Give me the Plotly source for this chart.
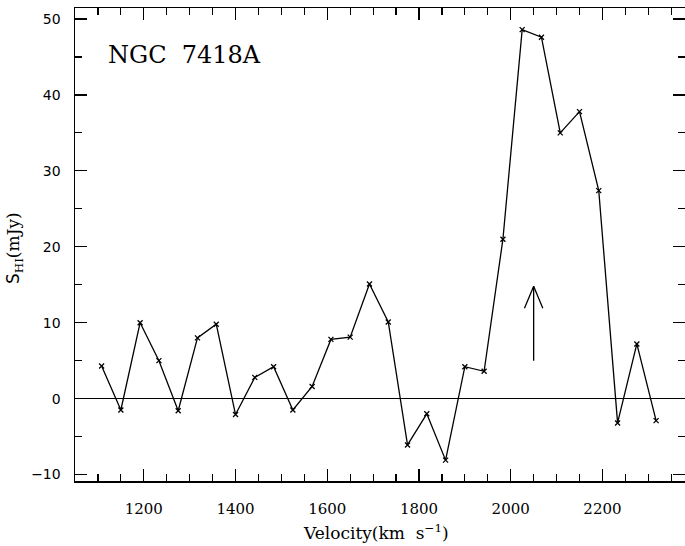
import plotly.graph_objects as go

# Data
velocity = [1108, 1150, 1192, 1233, 1275, 1317, 1358, 1400, 1442, 1483,
            1525, 1567, 1608, 1650, 1692, 1733, 1775, 1817, 1858, 1900,
            1942, 1983, 2025, 2067, 2108, 2150, 2192, 2233, 2275, 2317]
flux = [4.3, -1.5, 10.0, 5.0, -1.6, 8.0, 9.8, -2.1, 2.8, 4.2,
        -1.5, 1.6, 7.8, 8.1, 15.1, 10.1, -6.1, -2.0, -8.1, 4.2,
        3.6, 21.0, 48.6, 47.6, 35.0, 37.8, 27.4, -3.2, 7.2, -2.9]

galaxy_name = "NGC  7418A"
arrow_velocity = 2050
arrow_base = 5.0
arrow_tip = 14.8
barb_dx = 20
barb_dy = 2.9

x_range = [1050, 2380]
y_range = [-10.85, 51.45]

fig = go.Figure()

fig.add_trace(go.Scatter(
    x=velocity, y=flux, mode="lines+markers",
    line=dict(color="black", width=1.3),
    marker=dict(symbol="x-thin", size=5, line=dict(color="black", width=1.3)),
    showlegend=False, hoverinfo="skip", cliponaxis=False,
))

# arrow marking the systemic velocity
fig.add_trace(go.Scatter(
    x=[arrow_velocity - barb_dx, arrow_velocity, arrow_velocity + barb_dx, None,
       arrow_velocity, arrow_velocity],
    y=[arrow_tip - barb_dy, arrow_tip, arrow_tip - barb_dy, None,
       arrow_tip, arrow_base],
    mode="lines", line=dict(color="black", width=1.3),
    showlegend=False, hoverinfo="skip",
))

serif = "DejaVu Serif"

fig.add_annotation(
    text=galaxy_name, xref="x", yref="y", x=1118, y=45.3,
    xanchor="left", yanchor="middle", showarrow=False,
    font=dict(family=serif, size=24, color="black"),
)

fig.add_annotation(
    text="<span style='font-family:DejaVu Sans'>S</span><sub>HI</sub>(mJy)",
    xref="paper", yref="paper", x=(14 - 75) / 610, y=(481 - 248) / 473,
    xanchor="center", yanchor="middle", textangle=-90, showarrow=False,
    font=dict(family=serif, size=17, color="black"),
)

fig.add_annotation(
    text="Velocity(km  s<sup>−1</sup>)",
    xref="paper", yref="paper", x=(376 - 75) / 610, y=(481 - 532) / 473,
    xanchor="center", yanchor="middle", showarrow=False,
    font=dict(family=serif, size=17, color="black"),
)

fig.update_xaxes(
    range=x_range, dtick=200, tick0=0, automargin=False,
    ticks="inside", ticklen=12, tickwidth=1.2, tickcolor="black",
    minor=dict(dtick=50, tick0=0, ticks="inside", ticklen=7, tickwidth=1.2, tickcolor="black"),
    showline=True, linecolor="black", linewidth=1.5, mirror="allticks",
    showgrid=False, zeroline=False,
    tickfont=dict(family=serif, size=15, color="black"),
    ticklabelstandoff=13,
)
fig.update_yaxes(
    range=y_range, dtick=10, tick0=0, automargin=False,
    ticks="inside", ticklen=12, tickwidth=1.2, tickcolor="black",
    minor=dict(dtick=5, tick0=0, ticks="inside", ticklen=7, tickwidth=1.2, tickcolor="black"),
    showline=True, linecolor="black", linewidth=1.5, mirror="allticks",
    showgrid=False, zeroline=True, zerolinecolor="black", zerolinewidth=1.2,
    tickfont=dict(family="DejaVu Sans", size=14, color="black"),
    ticklabelstandoff=10,
)

fig.update_layout(
    width=685, height=546,
    margin=dict(l=75, r=0, t=8, b=65, autoexpand=False),
    paper_bgcolor="white", plot_bgcolor="white",
)

fig.write_html(
    "out.html",
    config={"displayModeBar": False, "staticPlot": True},
    post_script="document.body.style.margin='0';document.body.style.overflow='hidden';",
)
